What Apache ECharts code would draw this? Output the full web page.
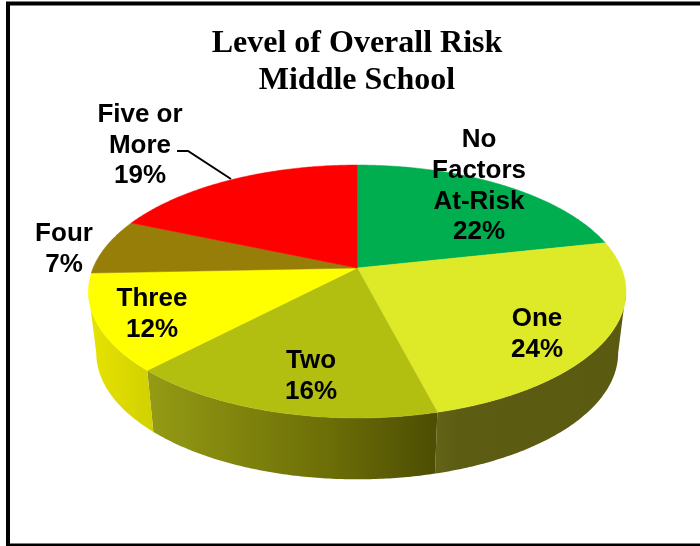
<!DOCTYPE html>
<html><head><meta charset="utf-8">
<style>html,body{margin:0;padding:0;background:#fff}#c{width:700px;height:546px}</style>
<script src="https://cdn.jsdelivr.net/npm/echarts@6/dist/echarts.min.js"></script>
</head><body><div id="c"></div>
<script>
// ---- data
const categories = ['No\nFactors\nAt-Risk', 'One', 'Two', 'Three', 'Four', 'Five or\nMore'];
const shares = [22, 24, 16, 12, 7, 19];
const titleLines = ['Level of Overall Risk', 'Middle School'];

// ---- styles and view geometry
const topColors = ['#00ad4f', '#dee927', '#b2bf10', '#ffff00', '#967e08', '#ff0000'];
const wallStops = [
  null,
  [[0, '#636418'], [0.12, '#5c5d12'], [1, '#5a5b10']],
  [[0, '#949b14'], [0.6, '#6e7007'], [1, '#4d4d04']],
  [[0, '#e6e400'], [1, '#d2d000']],
  null, null
];
const labelAnchors = [[479, 186], [537, 334.5], [311, 376.5], [152, 314], [64, 249], [140, 145.5]];
const tilt = -0.1858;                       // perspective strength
const viewSkew = 1.35 * Math.PI / 180;      // slight angular distortion of the 3D view
const topFace = {x: 357.2, y: 268, a: 264.1, b: 122.1};
const baseFace = {x: 357.2, y: 329.5, a: 256.4, b: 122};
const FRONT_FROM = Math.acos(tilt), FRONT_TO = 2 * Math.PI - FRONT_FROM;

const total = shares.reduce((s, v) => s + v, 0);
function project(face, t) {
  const u = Math.sin(t), v = -Math.cos(t), w = 1 + tilt * v;
  return [face.x + face.a * u / w, face.y + face.b * v / w];
}
function viewAngle(t) { return t - viewSkew * Math.sin(t) * (1 + Math.cos(t)); }
function sliceRange(i) {
  let before = 0;
  for (let k = 0; k < i; k++) before += shares[k];
  return [viewAngle(before / total * 2 * Math.PI), viewAngle((before + shares[i]) / total * 2 * Math.PI)];
}
function arc(face, from, to) {
  const n = Math.max(2, Math.ceil((to - from) / 0.01)), pts = [];
  for (let j = 0; j <= n; j++) pts.push(project(face, from + (to - from) * j / n));
  return pts;
}
function renderWall(params, api) {
  const i = params.dataIndex, r = sliceRange(i);
  const from = Math.max(r[0], FRONT_FROM), to = Math.min(r[1], FRONT_TO);
  if (to <= from || !wallStops[i]) return {type: 'group', children: []};
  const pts = arc(topFace, from, to).concat(arc(baseFace, from, to).reverse());
  const fill = {type: 'linear', x: 0, y: 0, x2: 1, y2: 0,
    colorStops: wallStops[i].map(s => ({offset: s[0], color: s[1]}))};
  return {type: 'polygon', shape: {points: pts}, style: {fill: fill}};
}
function renderTop(params, api) {
  const i = params.dataIndex, r = sliceRange(i);
  const pts = [[topFace.x, topFace.y]].concat(arc(topFace, r[0], r[1]));
  return {type: 'polygon', shape: {points: pts},
    style: {fill: topColors[i], stroke: topColors[i], lineWidth: 0.5}};
}
function renderLabel(params, api) {
  const i = params.dataIndex, p = labelAnchors[i];
  return {type: 'text', x: p[0], y: p[1], style: {
    text: categories[i] + '\n' + api.value(0) + '%',
    fill: '#000', align: 'center', verticalAlign: 'middle',
    font: 'bold 26px "Liberation Sans", Arial, sans-serif', lineHeight: 30.8
  }};
}
const seriesData = shares.map(v => [v]);
const baseSeries = {type: 'custom', coordinateSystem: 'none', data: seriesData, silent: true, animation: false};
const chart = echarts.init(document.getElementById('c'), null, {renderer: 'canvas'});
chart.setOption({
  animation: false,
  backgroundColor: '#fff',
  title: {
    text: titleLines.join('\n'), left: 357, top: 25, padding: 0, textAlign: 'center',
    textStyle: {fontFamily: '"Liberation Serif", "Times New Roman", serif', fontWeight: 'bold',
      fontSize: 32, lineHeight: 37, color: '#000'}
  },
  graphic: [
    {type: 'polyline', silent: true, z: 20, shape: {points: [[177, 151], [188, 151], [231, 179]]},
      style: {stroke: '#000', lineWidth: 2, fill: null}},
    {type: 'rect', silent: true, z: 30, shape: {x: 8, y: 3.5, width: 720, height: 542},
      style: {stroke: '#000', lineWidth: 4, fill: null}}
  ],
  series: [
    Object.assign({}, baseSeries, {renderItem: renderWall, z: 2}),
    Object.assign({}, baseSeries, {renderItem: renderTop, z: 3}),
    Object.assign({}, baseSeries, {renderItem: renderLabel, z: 4})
  ]
});
</script></body></html>
